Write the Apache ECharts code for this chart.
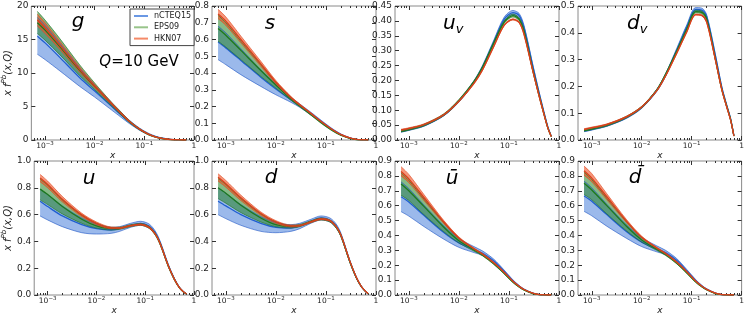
<!DOCTYPE html>
<html><head><meta charset="utf-8">
<script src="https://cdn.jsdelivr.net/npm/echarts@6/dist/echarts.min.js"></script>
<style>html,body{margin:0;padding:0;background:#fff}#c{width:747px;height:317px}</style>
</head><body><div id="c"></div>
<script>
// ---- data ----
const X = [7e-4, 1e-3, 2e-3, 5e-3, 1e-2, 2e-2, 3e-2, 5e-2, 0.08, 0.12, 0.16, 0.2, 0.3, 0.4, 0.5, 0.6, 0.7];
const setNames = ['nCTEQ15', 'EPS09', 'HKN07'];
const xTickValues = [1e-3, 1e-2, 1e-1, 1];

// each: [lower, central, upper]
const g_nCTEQ15 = [
 [12.8, 12.0, 10.3, 8.0, 6.4, 4.7, 3.7, 2.45, 1.45, 0.8, 0.48, 0.3, 0.1, 0.03, 0.008, 0.002, 0],
 [15.5, 14.5, 12.3, 9.3, 7.3, 5.3, 4.1, 2.7, 1.6, 0.9, 0.55, 0.35, 0.12, 0.04, 0.01, 0.003, 0.001],
 [18.3, 17.1, 14.4, 10.7, 8.2, 5.9, 4.5, 2.95, 1.78, 1.02, 0.63, 0.4, 0.15, 0.05, 0.015, 0.004, 0.001]];
const g_EPS09 = [
 [15.9, 14.9, 12.7, 9.6, 7.5, 5.35, 4.1, 2.6, 1.5, 0.78, 0.45, 0.27, 0.08, 0.02, 0.005, 0.001, 0],
 [17.5, 16.4, 13.9, 10.4, 8.0, 5.65, 4.35, 2.75, 1.6, 0.85, 0.5, 0.3, 0.1, 0.03, 0.008, 0.002, 0.0005],
 [19.2, 17.9, 15.1, 11.2, 8.5, 5.95, 4.6, 2.9, 1.7, 0.92, 0.55, 0.34, 0.12, 0.04, 0.011, 0.003, 0.001]];
const g_HKN07 = [
 [17.0, 15.9, 13.5, 10.1, 7.8, 5.55, 4.25, 2.7, 1.57, 0.84, 0.49, 0.3, 0.1, 0.03, 0.008, 0.002, 0],
 [17.9, 16.7, 14.1, 10.5, 8.05, 5.72, 4.38, 2.78, 1.62, 0.87, 0.51, 0.31, 0.11, 0.035, 0.01, 0.002, 0.0005],
 [18.8, 17.5, 14.7, 10.9, 8.3, 5.9, 4.5, 2.86, 1.67, 0.9, 0.53, 0.33, 0.12, 0.04, 0.011, 0.003, 0.001]];

const s_nCTEQ15 = [
 [0.48, 0.45, 0.39, 0.32, 0.27, 0.225, 0.195, 0.15, 0.105, 0.068, 0.045, 0.03, 0.011, 0.004, 0.001, 0.0003, 0],
 [0.585, 0.55, 0.475, 0.375, 0.305, 0.24, 0.205, 0.158, 0.112, 0.073, 0.049, 0.033, 0.012, 0.004, 0.001, 0.0003, 0],
 [0.68, 0.64, 0.545, 0.42, 0.335, 0.255, 0.215, 0.166, 0.118, 0.078, 0.053, 0.036, 0.014, 0.005, 0.0015, 0.0004, 0]];
const s_EPS09 = [
 [0.59, 0.555, 0.48, 0.38, 0.31, 0.237, 0.198, 0.148, 0.1, 0.063, 0.041, 0.027, 0.009, 0.003, 0.001, 0.0002, 0],
 [0.665, 0.625, 0.535, 0.415, 0.328, 0.245, 0.204, 0.153, 0.105, 0.067, 0.044, 0.029, 0.01, 0.003, 0.001, 0.0002, 0],
 [0.745, 0.70, 0.59, 0.45, 0.345, 0.253, 0.21, 0.158, 0.109, 0.07, 0.047, 0.031, 0.011, 0.004, 0.001, 0.0003, 0]];
const s_HKN07 = [
 [0.725, 0.685, 0.58, 0.44, 0.335, 0.248, 0.206, 0.156, 0.108, 0.07, 0.047, 0.031, 0.011, 0.004, 0.001, 0.0003, 0],
 [0.752, 0.71, 0.60, 0.455, 0.345, 0.254, 0.21, 0.159, 0.11, 0.072, 0.048, 0.032, 0.012, 0.004, 0.001, 0.0003, 0],
 [0.78, 0.735, 0.62, 0.47, 0.355, 0.26, 0.215, 0.162, 0.113, 0.074, 0.05, 0.034, 0.013, 0.005, 0.0015, 0.0004, 0]];

const uv_nCTEQ15 = [
 [0.026, 0.032, 0.046, 0.081, 0.127, 0.191, 0.242, 0.324, 0.398, 0.421, 0.411, 0.371, 0.243, 0.154, 0.09, 0.041, 0.012],
 [0.028, 0.034, 0.048, 0.083, 0.13, 0.195, 0.247, 0.33, 0.405, 0.428, 0.418, 0.378, 0.248, 0.158, 0.093, 0.043, 0.013],
 [0.030, 0.036, 0.05, 0.086, 0.133, 0.199, 0.252, 0.336, 0.412, 0.435, 0.425, 0.385, 0.253, 0.162, 0.096, 0.045, 0.014]];
const uv_EPS09 = [
 [0.027, 0.033, 0.047, 0.082, 0.129, 0.192, 0.242, 0.322, 0.391, 0.413, 0.401, 0.36, 0.231, 0.147, 0.086, 0.039, 0.011],
 [0.029, 0.035, 0.05, 0.085, 0.132, 0.195, 0.245, 0.326, 0.395, 0.418, 0.405, 0.365, 0.235, 0.15, 0.088, 0.04, 0.012],
 [0.031, 0.038, 0.053, 0.088, 0.136, 0.199, 0.249, 0.33, 0.399, 0.423, 0.41, 0.37, 0.239, 0.153, 0.09, 0.041, 0.013]];
const uv_HKN07 = [
 [0.032, 0.037, 0.05, 0.083, 0.128, 0.188, 0.235, 0.313, 0.383, 0.403, 0.393, 0.353, 0.23, 0.146, 0.085, 0.039, 0.011],
 [0.034, 0.039, 0.052, 0.085, 0.13, 0.19, 0.237, 0.315, 0.385, 0.405, 0.395, 0.355, 0.232, 0.148, 0.087, 0.04, 0.012],
 [0.036, 0.041, 0.054, 0.087, 0.132, 0.192, 0.239, 0.317, 0.387, 0.407, 0.397, 0.357, 0.234, 0.15, 0.089, 0.041, 0.013]];

const dv_nCTEQ15 = [
 [0.031, 0.037, 0.051, 0.081, 0.118, 0.181, 0.237, 0.329, 0.416, 0.48, 0.478, 0.453, 0.306, 0.193, 0.126, 0.076, 0.015],
 [0.033, 0.039, 0.053, 0.083, 0.121, 0.185, 0.242, 0.335, 0.423, 0.487, 0.485, 0.46, 0.312, 0.197, 0.13, 0.08, 0.016],
 [0.035, 0.041, 0.055, 0.086, 0.124, 0.189, 0.247, 0.341, 0.43, 0.494, 0.492, 0.467, 0.318, 0.201, 0.134, 0.083, 0.017]];
const dv_EPS09 = [
 [0.033, 0.039, 0.052, 0.083, 0.12, 0.183, 0.24, 0.326, 0.408, 0.474, 0.471, 0.446, 0.297, 0.188, 0.124, 0.075, 0.014],
 [0.035, 0.041, 0.055, 0.086, 0.123, 0.186, 0.244, 0.33, 0.413, 0.479, 0.476, 0.45, 0.3, 0.19, 0.127, 0.077, 0.015],
 [0.037, 0.044, 0.058, 0.089, 0.126, 0.189, 0.248, 0.334, 0.418, 0.484, 0.481, 0.454, 0.303, 0.192, 0.13, 0.079, 0.016]];
const dv_HKN07 = [
 [0.038, 0.044, 0.056, 0.085, 0.121, 0.182, 0.237, 0.321, 0.402, 0.466, 0.463, 0.438, 0.295, 0.187, 0.123, 0.074, 0.014],
 [0.04, 0.046, 0.058, 0.087, 0.123, 0.184, 0.239, 0.323, 0.404, 0.468, 0.465, 0.44, 0.297, 0.189, 0.125, 0.075, 0.015],
 [0.042, 0.048, 0.06, 0.089, 0.125, 0.186, 0.241, 0.325, 0.406, 0.47, 0.467, 0.442, 0.299, 0.191, 0.127, 0.076, 0.016]];

const u_nCTEQ15 = [
 [0.59, 0.56, 0.51, 0.465, 0.455, 0.46, 0.475, 0.505, 0.52, 0.5, 0.452, 0.384, 0.21, 0.112, 0.054, 0.024, 0.007],
 [0.70, 0.66, 0.59, 0.525, 0.495, 0.485, 0.495, 0.52, 0.535, 0.515, 0.465, 0.395, 0.218, 0.117, 0.057, 0.026, 0.008],
 [0.79, 0.75, 0.665, 0.575, 0.53, 0.505, 0.51, 0.535, 0.55, 0.53, 0.478, 0.406, 0.226, 0.122, 0.06, 0.028, 0.009]];
const u_EPS09 = [
 [0.71, 0.675, 0.605, 0.535, 0.5, 0.485, 0.49, 0.51, 0.52, 0.497, 0.448, 0.38, 0.207, 0.11, 0.053, 0.024, 0.007],
 [0.79, 0.75, 0.66, 0.565, 0.515, 0.495, 0.498, 0.518, 0.527, 0.505, 0.455, 0.386, 0.212, 0.113, 0.055, 0.025, 0.008],
 [0.865, 0.82, 0.71, 0.595, 0.535, 0.505, 0.506, 0.525, 0.534, 0.512, 0.462, 0.392, 0.217, 0.116, 0.057, 0.026, 0.009]];
const u_HKN07 = [
 [0.845, 0.80, 0.695, 0.585, 0.525, 0.495, 0.495, 0.513, 0.522, 0.5, 0.452, 0.384, 0.212, 0.113, 0.055, 0.025, 0.008],
 [0.873, 0.825, 0.715, 0.598, 0.535, 0.5, 0.5, 0.517, 0.526, 0.505, 0.456, 0.388, 0.215, 0.115, 0.056, 0.026, 0.008],
 [0.90, 0.85, 0.735, 0.61, 0.545, 0.507, 0.505, 0.521, 0.53, 0.51, 0.46, 0.392, 0.218, 0.117, 0.058, 0.027, 0.009]];

const d_nCTEQ15 = [
 [0.60, 0.57, 0.52, 0.475, 0.465, 0.475, 0.495, 0.535, 0.56, 0.545, 0.5, 0.435, 0.245, 0.13, 0.065, 0.03, 0.009],
 [0.70, 0.665, 0.60, 0.535, 0.505, 0.5, 0.515, 0.55, 0.575, 0.56, 0.515, 0.447, 0.252, 0.135, 0.068, 0.031, 0.01],
 [0.80, 0.76, 0.675, 0.585, 0.54, 0.525, 0.535, 0.565, 0.59, 0.575, 0.53, 0.46, 0.26, 0.14, 0.071, 0.033, 0.011]];
const d_EPS09 = [
 [0.72, 0.685, 0.615, 0.545, 0.51, 0.5, 0.51, 0.54, 0.56, 0.545, 0.5, 0.435, 0.244, 0.13, 0.065, 0.03, 0.009],
 [0.80, 0.76, 0.67, 0.575, 0.525, 0.51, 0.518, 0.547, 0.567, 0.552, 0.507, 0.441, 0.248, 0.133, 0.067, 0.031, 0.01],
 [0.87, 0.825, 0.72, 0.605, 0.545, 0.52, 0.526, 0.554, 0.574, 0.559, 0.514, 0.447, 0.252, 0.136, 0.069, 0.032, 0.011]];
const d_HKN07 = [
 [0.85, 0.805, 0.705, 0.595, 0.535, 0.508, 0.513, 0.54, 0.562, 0.55, 0.505, 0.44, 0.25, 0.134, 0.067, 0.031, 0.01],
 [0.878, 0.83, 0.725, 0.608, 0.545, 0.515, 0.518, 0.545, 0.567, 0.555, 0.51, 0.445, 0.253, 0.136, 0.068, 0.032, 0.01],
 [0.905, 0.855, 0.745, 0.62, 0.555, 0.522, 0.523, 0.55, 0.572, 0.56, 0.515, 0.45, 0.256, 0.138, 0.07, 0.033, 0.011]];

const ubar_nCTEQ15 = [
 [0.56, 0.53, 0.46, 0.375, 0.32, 0.285, 0.265, 0.215, 0.152, 0.09, 0.057, 0.036, 0.011, 0.003, 0.001, 0, 0],
 [0.66, 0.625, 0.535, 0.42, 0.35, 0.305, 0.28, 0.228, 0.16, 0.096, 0.06, 0.038, 0.012, 0.003, 0.001, 0, 0],
 [0.76, 0.715, 0.605, 0.465, 0.38, 0.325, 0.295, 0.24, 0.168, 0.102, 0.064, 0.04, 0.013, 0.004, 0.001, 0, 0]];
const ubar_EPS09 = [
 [0.67, 0.635, 0.54, 0.425, 0.35, 0.295, 0.262, 0.205, 0.142, 0.084, 0.052, 0.032, 0.009, 0.002, 0.0005, 0, 0],
 [0.745, 0.70, 0.595, 0.455, 0.365, 0.303, 0.268, 0.21, 0.146, 0.087, 0.054, 0.034, 0.01, 0.0025, 0.0006, 0, 0],
 [0.82, 0.77, 0.645, 0.485, 0.38, 0.31, 0.274, 0.215, 0.15, 0.09, 0.056, 0.035, 0.011, 0.003, 0.0007, 0, 0]];
const ubar_HKN07 = [
 [0.80, 0.755, 0.635, 0.48, 0.377, 0.307, 0.27, 0.212, 0.15, 0.09, 0.057, 0.036, 0.011, 0.003, 0.001, 0, 0],
 [0.83, 0.78, 0.655, 0.49, 0.383, 0.311, 0.274, 0.216, 0.153, 0.092, 0.058, 0.037, 0.012, 0.003, 0.001, 0, 0],
 [0.862, 0.81, 0.675, 0.50, 0.39, 0.315, 0.278, 0.22, 0.156, 0.095, 0.06, 0.038, 0.013, 0.004, 0.001, 0, 0]];

const dbar_nCTEQ15 = [
 [0.562, 0.532, 0.462, 0.38, 0.325, 0.29, 0.27, 0.22, 0.155, 0.092, 0.058, 0.037, 0.011, 0.003, 0.001, 0, 0],
 [0.665, 0.63, 0.54, 0.425, 0.355, 0.31, 0.285, 0.233, 0.163, 0.098, 0.061, 0.039, 0.012, 0.003, 0.001, 0, 0],
 [0.765, 0.72, 0.61, 0.47, 0.385, 0.33, 0.3, 0.245, 0.171, 0.104, 0.065, 0.041, 0.013, 0.004, 0.001, 0, 0]];
const dbar_EPS09 = [
 [0.675, 0.64, 0.545, 0.43, 0.355, 0.3, 0.266, 0.21, 0.145, 0.085, 0.053, 0.033, 0.009, 0.002, 0.0005, 0, 0],
 [0.75, 0.705, 0.60, 0.46, 0.37, 0.308, 0.272, 0.215, 0.149, 0.088, 0.055, 0.035, 0.01, 0.0025, 0.0006, 0, 0],
 [0.825, 0.775, 0.65, 0.49, 0.385, 0.315, 0.278, 0.22, 0.153, 0.091, 0.057, 0.036, 0.011, 0.003, 0.0007, 0, 0]];
const dbar_HKN07 = [
 [0.805, 0.76, 0.64, 0.485, 0.382, 0.312, 0.275, 0.217, 0.153, 0.091, 0.058, 0.037, 0.011, 0.003, 0.001, 0, 0],
 [0.835, 0.785, 0.66, 0.495, 0.388, 0.316, 0.279, 0.221, 0.156, 0.094, 0.059, 0.038, 0.012, 0.003, 0.001, 0, 0],
 [0.866, 0.815, 0.68, 0.505, 0.395, 0.32, 0.283, 0.225, 0.159, 0.097, 0.061, 0.039, 0.013, 0.004, 0.001, 0, 0]];

// panel axis ranges
const yMax  = [20, 0.8, 0.45, 0.5, 1.0, 1.0, 0.9, 0.9];
const yStep = [5, 0.1, 0.05, 0.1, 0.2, 0.2, 0.1, 0.1];
const yDec  = [0, 1, 2, 1, 1, 1, 1, 1];
const panelData = [
  [g_nCTEQ15, g_EPS09, g_HKN07], [s_nCTEQ15, s_EPS09, s_HKN07],
  [uv_nCTEQ15, uv_EPS09, uv_HKN07], [dv_nCTEQ15, dv_EPS09, dv_HKN07],
  [u_nCTEQ15, u_EPS09, u_HKN07], [d_nCTEQ15, d_EPS09, d_HKN07],
  [ubar_nCTEQ15, ubar_EPS09, ubar_HKN07], [dbar_nCTEQ15, dbar_EPS09, dbar_HKN07]];

// ---- styling / layout ----
const FONT = 'DejaVu Sans';
const XMIN = 5.3e-4;
const lefts = [30, 212, 395, 578], tops = [6, 161], GW = 164, GH = 134;
const sty = [
  {fill: 'rgba(55,115,215,0.5)', edge: 'rgba(35,90,200,0.9)', line: '#1f5fd0', leg: '#6a98e4'},
  {fill: 'rgba(35,130,35,0.55)', edge: 'rgba(30,115,30,0.9)', line: '#1d7a1d', leg: '#98c48a'},
  {fill: 'rgba(240,80,35,0.6)',  edge: 'rgba(225,75,35,0.95)', line: '#d8401c', leg: '#f58a68'}];
const minorVals = [];
for (let k = -4; k <= -1; k++) for (let m = 2; m <= 9; m++) {
  const v = m * Math.pow(10, k);
  if (v > XMIN) minorVals.push(v);
}
const tickCol = '#333';

const grids = [], xAxes = [], yAxes = [], series = [];
for (let i = 0; i < 8; i++) {
  const r = Math.floor(i / 4), c = i % 4;
  grids.push({left: lefts[c], top: tops[r], width: GW, height: GH, show: true,
    borderColor: '#8a8a8a', borderWidth: 1, backgroundColor: 'transparent', containLabel: false});
  const base = {type: 'log', logBase: 10, min: XMIN, max: 1, gridIndex: i,
    axisLine: {show: false}, splitLine: {show: false}, minorSplitLine: {show: false}};
  xAxes.push(Object.assign({}, base, {position: 'bottom',
    axisTick: {inside: true, length: 4, customValues: xTickValues, lineStyle: {color: tickCol}},
    axisLabel: {customValues: xTickValues, margin: 1, color: '#222', fontFamily: FONT,
      formatter: v => { const e = Math.round(Math.log10(v)); return e === 0 ? '{n|1}' : '{n|10}{e|\u2212' + (-e) + '}'; },
      rich: {n: {fontSize: 7.5, lineHeight: 11, fontFamily: FONT, color: '#222'},
             e: {fontSize: 5.5, lineHeight: 6, verticalAlign: 'top', fontFamily: FONT, color: '#222'}}},
    name: 'x', nameLocation: 'middle', nameGap: 8,
    nameTextStyle: {fontStyle: 'italic', fontSize: 9, fontFamily: FONT, color: '#222'}}));
  xAxes.push(Object.assign({}, base, {position: 'bottom',
    axisTick: {inside: true, length: 2, customValues: minorVals, lineStyle: {color: tickCol}},
    axisLabel: {show: false}}));
  xAxes.push(Object.assign({}, base, {position: 'top',
    axisTick: {inside: true, length: 4, customValues: xTickValues, lineStyle: {color: tickCol}},
    axisLabel: {show: false}}));
  xAxes.push(Object.assign({}, base, {position: 'top',
    axisTick: {inside: true, length: 2, customValues: minorVals, lineStyle: {color: tickCol}},
    axisLabel: {show: false}}));
  const ybase = {type: 'value', min: 0, max: yMax[i], interval: yStep[i], gridIndex: i,
    axisLine: {show: false}, splitLine: {show: false},
    axisTick: {inside: true, length: 4, lineStyle: {color: tickCol}}};
  const yl = Object.assign({}, ybase, {position: 'left',
    axisLabel: {margin: 3, fontSize: 9, fontFamily: FONT, color: '#222',
      formatter: v => v.toFixed(yDec[i])}});
  if (c === 0) {
    yl.name = '{i|x f}{s|Pb}{i|(x,Q)}';
    yl.nameLocation = 'middle';
    yl.nameGap = 14;
    yl.nameTextStyle = {rich: {
      i: {fontStyle: 'italic', fontSize: 10, lineHeight: 14, fontFamily: FONT, color: '#222'},
      s: {fontStyle: 'italic', fontSize: 7, lineHeight: 8, verticalAlign: 'top', fontFamily: FONT, color: '#222'}}};
  }
  yAxes.push(yl);
  yAxes.push(Object.assign({}, ybase, {position: 'right', axisLabel: {show: false}}));

  panelData[i].forEach((arr, s) => {
    const [lo, cen, hi] = arr;
    const st = 'p' + i + 's' + s;
    // value first in each pair so that the stack is applied to the y value
    const common = {type: 'line', name: setNames[s], xAxisIndex: 4 * i, yAxisIndex: 2 * i,
      encode: {x: 1, y: 0}, symbol: 'none', smooth: 0.3, silent: true, animation: false};
    series.push(Object.assign({}, common, {stack: st,
      data: X.map((x, j) => [lo[j], x]), lineStyle: {color: sty[s].edge, width: 0.7}}));
    series.push(Object.assign({}, common, {stack: st,
      data: X.map((x, j) => [+(hi[j] - lo[j]).toFixed(6), x]),
      lineStyle: {color: sty[s].edge, width: 0.7}, areaStyle: {color: sty[s].fill, opacity: 1}}));
    series.push(Object.assign({}, common,
      {data: X.map((x, j) => [cen[j], x]), lineStyle: {color: sty[s].line, width: 1.3}}));
  });
}

const titleRich = {
  a: {fontStyle: 'italic', fontSize: 20, lineHeight: 24, fontFamily: FONT, color: '#000'},
  b: {fontStyle: 'italic', fontSize: 13, lineHeight: 13, verticalAlign: 'bottom', fontFamily: FONT, color: '#000'}};
function ttl(x, y, text, align) {
  return {type: 'text', x: x, y: y, silent: true,
    style: {text: text, rich: titleRich, align: align || 'center', verticalAlign: 'middle',
            textAlign: align || 'center', textVerticalAlign: 'middle'}};
}
const graphics = [
  ttl(78, 22, '{a|g}'), ttl(270, 24, '{a|s}'), ttl(443, 24, '{a|u}{b|v}', 'left'), ttl(627, 24, '{a|d}{b|v}', 'left'),
  ttl(89, 179, '{a|u}'), ttl(271, 178, '{a|d}'), ttl(452, 179, '{a|\u016B}'), ttl(635, 178, '{a|d\u0304}'),
  {type: 'text', x: 139, y: 62, silent: true,
   style: {text: '{q|Q}{n|=10 GeV}', align: 'center', verticalAlign: 'middle', textAlign: 'center', textVerticalAlign: 'middle',
     rich: {q: {fontStyle: 'italic', fontSize: 15, fontFamily: FONT, color: '#000'},
            n: {fontSize: 15, fontFamily: FONT, color: '#000'}}}}
];

const chart = echarts.init(document.getElementById('c'), null, {renderer: 'canvas'});
chart.setOption({
  animation: false,
  backgroundColor: '#fff',
  grid: grids, xAxis: xAxes, yAxis: yAxes, series: series,
  legend: {left: 130, top: 9, orient: 'vertical', itemWidth: 14, itemHeight: 2, itemGap: 3.3,
    icon: 'rect', padding: [3, 3, 3, 4], borderColor: '#444', borderWidth: 1, backgroundColor: '#fff',
    selectedMode: false, itemStyle: {borderWidth: 0},
    textStyle: {fontSize: 8, lineHeight: 8, fontFamily: FONT, color: '#222', padding: [0, 0, 0, 1]},
    data: setNames.map((n, s) => ({name: n, icon: 'rect', itemStyle: {color: sty[s].leg}}))},
  graphic: graphics
});
</script></body></html>
